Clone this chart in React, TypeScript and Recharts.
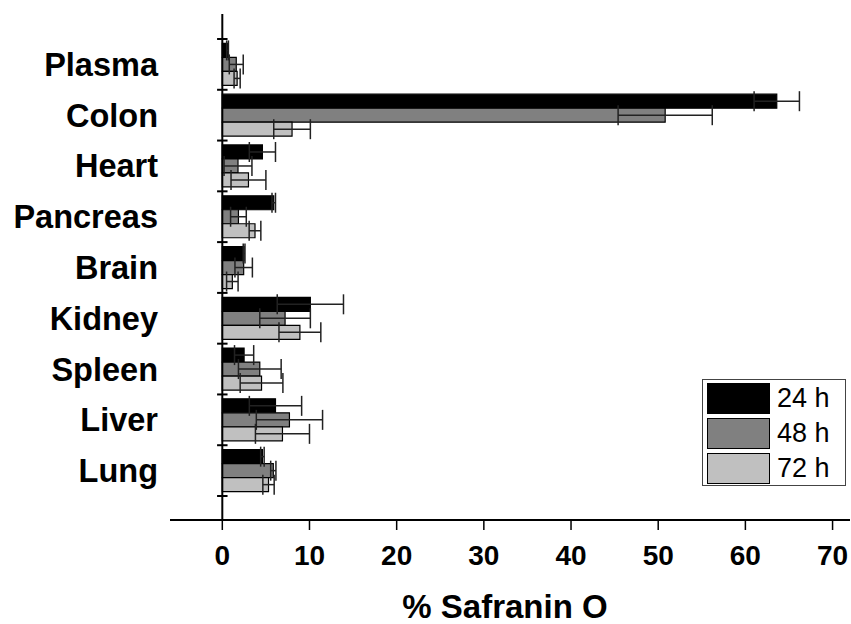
import React from 'react';
import { BarChart, Bar, XAxis, YAxis, ErrorBar, ReferenceLine, Legend } from 'recharts';

const categories = ['Plasma', 'Colon', 'Heart', 'Pancreas', 'Brain', 'Kidney', 'Spleen', 'Liver', 'Lung'];
const values24 = [0.6, 63.6, 4.6, 5.9, 2.5, 10.1, 2.5, 6.1, 4.6];
const errors24 = [0.1, 2.6, 1.5, 0.2, 0.1, 3.8, 1.1, 3.0, 0.2];
const values48 = [1.6, 50.8, 1.8, 1.85, 2.45, 7.2, 4.3, 7.7, 5.85];
const errors48 = [0.8, 5.4, 1.6, 0.9, 1.0, 2.9, 2.45, 3.8, 0.3];
const values72 = [1.7, 8.0, 3.0, 3.75, 1.15, 8.9, 4.5, 6.9, 5.3];
const errors72 = [0.35, 2.1, 2.0, 0.67, 0.66, 2.4, 2.45, 3.1, 0.65];
const xTicks = [0, 10, 20, 30, 40, 50, 60, 70];
const seriesNames = ['24 h', '48 h', '72 h'];

const data = categories.map((name, i) => ({
  name,
  h24: values24[i],
  e24: errors24[i],
  h48: values48[i],
  e48: errors48[i],
  h72: values72[i],
  e72: errors72[i],
}));

const FONT = '"Liberation Sans", Arial, Helvetica, sans-serif';

const LegendBox = (props: any) => {
  const payload = props.payload || [];
  return (
    <div
      style={{
        border: '1px solid #444',
        boxSizing: 'border-box',
        width: 144,
        height: 107,
        padding: '3px 0 0 4px',
        background: '#fff',
        fontFamily: FONT,
      }}
    >
      {payload.map((p: any) => (
        <div key={p.value} style={{ display: 'flex', alignItems: 'center', height: 31, marginBottom: 4 }}>
          <div
            style={{
              width: 63,
              height: 31,
              boxSizing: 'border-box',
              background: p.color,
              border: '1px solid #000',
            }}
          />
          <span style={{ marginLeft: 7, fontSize: 27, color: '#000', lineHeight: '31px' }}>{p.value}</span>
        </div>
      ))}
    </div>
  );
};

export default function App() {
  return (
    <div style={{ position: 'absolute', left: 0, top: 0 }}>
      <BarChart
        width={851}
        height={624}
        layout="vertical"
        data={data}
        margin={{ top: 14, right: 1, bottom: 0, left: 0 }}
        barCategoryGap="8.7%"
        barGap={0}
      >
        <XAxis
          type="number"
          domain={[-6, 72]}
          ticks={xTicks}
          allowDataOverflow
          height={104}
          axisLine={{ stroke: '#000', strokeWidth: 2 }}
          tickLine={{ stroke: '#000', strokeWidth: 1.5 }}
          tickSize={10}
          tickMargin={15}
          tick={{ fill: '#000', fontSize: 28, fontWeight: 'bold', fontFamily: FONT }}
          label={{
            value: '% Safranin O',
            position: 'insideBottom',
            offset: 6,
            fill: '#000',
            fontSize: 33,
            fontWeight: 'bold',
            fontFamily: FONT,
            dx: -5,
          }}
        />
        <YAxis
          type="category"
          dataKey="name"
          width={170}
          axisLine={false}
          tickLine={false}
          tickSize={0}
          tickMargin={12}
          padding={{ top: 25, bottom: 24 }}
          tick={{ fill: '#000', fontSize: 32.5, fontWeight: 'bold', fontFamily: FONT }}
        />
        <Bar dataKey="h24" name={seriesNames[0]} fill="#000000" stroke="#000" strokeWidth={1.2} isAnimationActive={false}>
          <ErrorBar dataKey="e24" direction="x" width={10} stroke="#222" strokeWidth={1.5} isAnimationActive={false} />
        </Bar>
        <Bar dataKey="h48" name={seriesNames[1]} fill="#808080" stroke="#000" strokeWidth={1.2} isAnimationActive={false}>
          <ErrorBar dataKey="e48" direction="x" width={10} stroke="#222" strokeWidth={1.5} isAnimationActive={false} />
        </Bar>
        <Bar dataKey="h72" name={seriesNames[2]} fill="#c0c0c0" stroke="#000" strokeWidth={1.2} isAnimationActive={false}>
          <ErrorBar dataKey="e72" direction="x" width={10} stroke="#222" strokeWidth={1.5} isAnimationActive={false} />
        </Bar>
        <ReferenceLine x={0} stroke="#000" strokeWidth={2} />
        {categories.map((c) => (
          <ReferenceLine
            key={'t' + c}
            position="start"
            segment={[{ x: -0.6, y: c }, { x: 0.6, y: c }]}
            stroke="#000"
            strokeWidth={2}
          />
        ))}
        <ReferenceLine
          position="end"
          segment={[{ x: -0.6, y: categories[categories.length - 1] }, { x: 0.6, y: categories[categories.length - 1] }]}
          stroke="#000"
          strokeWidth={2}
        />
        <Legend
          layout="horizontal"
          align="center"
          verticalAlign="middle"
          content={<LegendBox />}
          wrapperStyle={{ left: 702, top: 379, width: 144, height: 107 }}
        />
      </BarChart>
    </div>
  );
}
